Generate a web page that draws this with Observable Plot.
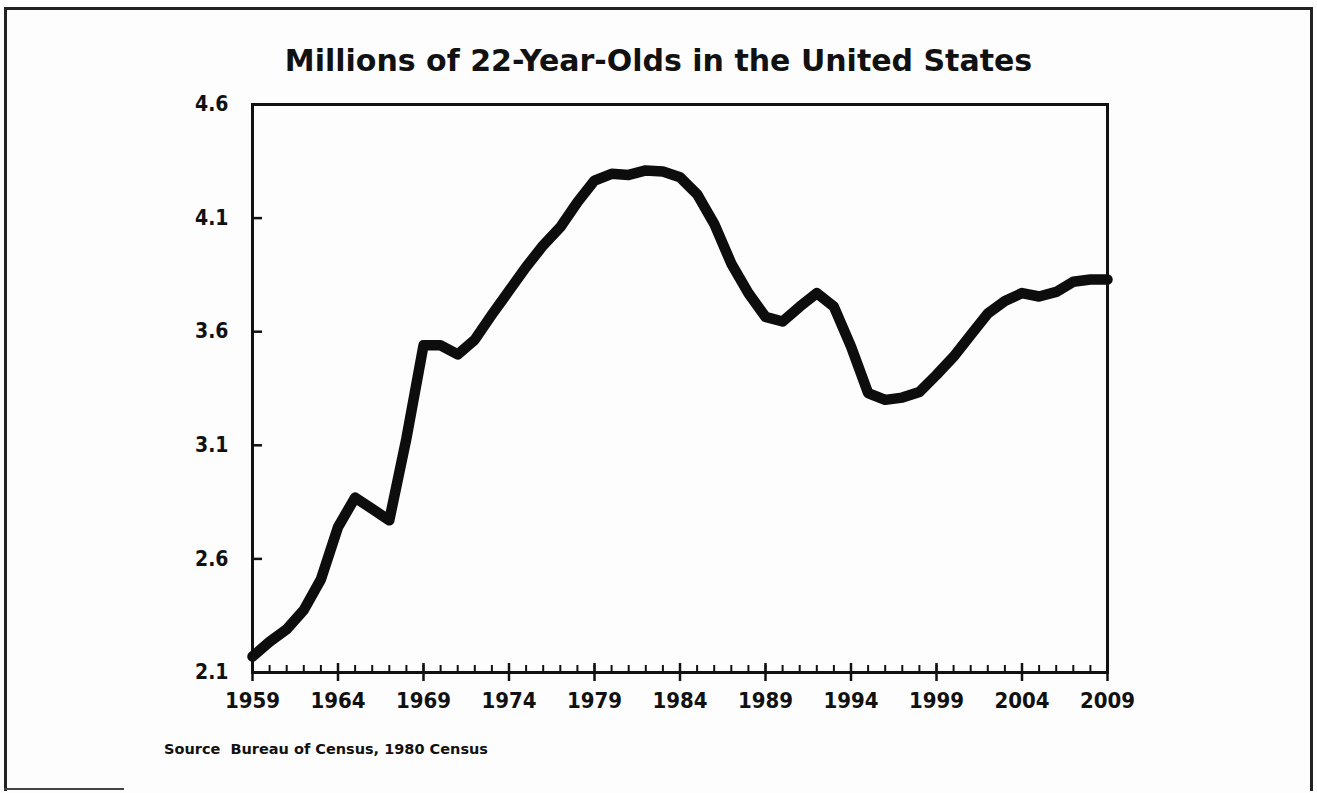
<!DOCTYPE html>
<html>
<head>
<meta charset="utf-8">
<script src="https://cdn.jsdelivr.net/npm/d3@7"></script>
<script src="https://cdn.jsdelivr.net/npm/@observablehq/plot@0.6"></script>
<style>
  html, body { margin: 0; padding: 0; background: #fdfdfd; }
  #page { position: relative; width: 1317px; height: 793px; overflow: hidden; background: #fdfdfd; }
  #title { position: absolute; left: 0; top: 43px; width: 1317px; text-align: center;
    font-family: "DejaVu Sans", sans-serif;
    font-weight: bold; font-size: 30px; color: #111; }
  #chart { position: absolute; left: 0; top: 80px; }
  #caption { position: absolute; left: 164px; top: 741px;
    font-family: "DejaVu Sans", sans-serif; font-weight: bold; font-size: 14.5px; color: #111; }
  .bt { position: absolute; left: 4px; top: 7px; width: 1309px; height: 3px; background: #222; }
  .bl { position: absolute; left: 4px; top: 7px; width: 3px; height: 784px; background: #222; }
  .br { position: absolute; left: 1310px; top: 7px; width: 3px; height: 784px; background: #222; }
  .bb { position: absolute; left: 4px; top: 788px; width: 120px; height: 2px; background: #444; }
</style>
</head>
<body>
<div id="page">
  <div class="bt"></div><div class="bl"></div><div class="br"></div><div class="bb"></div>
  <div id="title">Millions of 22-Year-Olds in the United States</div>
  <div id="chart"></div>
  <div id="caption">Source&nbsp;&nbsp;Bureau of Census, 1980 Census</div>
</div>
<script>
const years = [1959,1960,1961,1962,1963,1964,1965,1966,1967,1968,
  1969,1970,1971,1972,1973,1974,1975,1976,1977,1978,
  1979,1980,1981,1982,1983,1984,1985,1986,1987,1988,
  1989,1990,1991,1992,1993,1994,1995,1996,1997,1998,
  1999,2000,2001,2002,2003,2004,2005,2006,2007,2008,2009];
const millions = [2.17,2.235,2.29,2.375,2.51,2.74,2.87,2.82,2.77,3.13,
  3.54,3.54,3.50,3.565,3.675,3.78,3.885,3.98,4.06,4.17,
  4.265,4.295,4.29,4.31,4.305,4.28,4.205,4.075,3.90,3.77,
  3.665,3.645,3.71,3.77,3.71,3.535,3.33,3.30,3.31,3.335,
  3.41,3.49,3.585,3.68,3.735,3.77,3.755,3.775,3.82,3.83,3.83];
const xTickYears = [1959,1964,1969,1974,1979,1984,1989,1994,1999,2004,2009];
const yTicks = [2.1,2.6,3.1,3.6,4.1,4.6];
const yInnerTicks = [2.6,3.1,3.6,4.1];

const data = years.map((y, i) => ({year: y, value: millions[i]}));

const W = 1317, H = 650, mL = 252, mR = 210, mT = 24, mB = 58;
const plotH = H - mT - mB, plotW = W - mL - mR;
const fontFam = '"DejaVu Sans Condensed", "DejaVu Sans", sans-serif';

const chart = Plot.plot({
  width: W, height: H,
  marginLeft: mL, marginRight: mR, marginTop: mT, marginBottom: mB,
  style: {fontFamily: fontFam, fontWeight: "bold", fontSize: "20px", color: "#111", background: "transparent", fontStretch: "condensed"},
  x: {domain: [1959, 2009]},
  y: {domain: [2.1, 4.6]},
  marks: [
    Plot.frame({stroke: "#111", strokeWidth: 3}),
    Plot.tickX(years, {x: d => d, stroke: "#111", strokeWidth: 2, insetTop: plotH - 7}),
    Plot.tickX(xTickYears, {x: d => d, stroke: "#111", strokeWidth: 2.5, insetTop: plotH - 9, insetBottom: -9}),
    Plot.tickY(yInnerTicks, {y: d => d, stroke: "#111", strokeWidth: 2.5, insetRight: plotW - 10}),
    Plot.axisX({ticks: xTickYears, tickSize: 0, tickPadding: 20, tickFormat: d => String(d), label: null, fontSize: 22, fontWeight: "bold"}),
    Plot.axisY({ticks: yTicks, tickSize: 0, tickPadding: 24, tickFormat: d => d.toFixed(1), label: null, fontSize: 21, fontWeight: "bold"}),
    Plot.line(data, {x: "year", y: "value", stroke: "#0d0d0d", strokeWidth: 10.5, strokeLinejoin: "round", strokeLinecap: "round"})
  ]
});
document.getElementById("chart").appendChild(chart);
</script>
</body>
</html>
